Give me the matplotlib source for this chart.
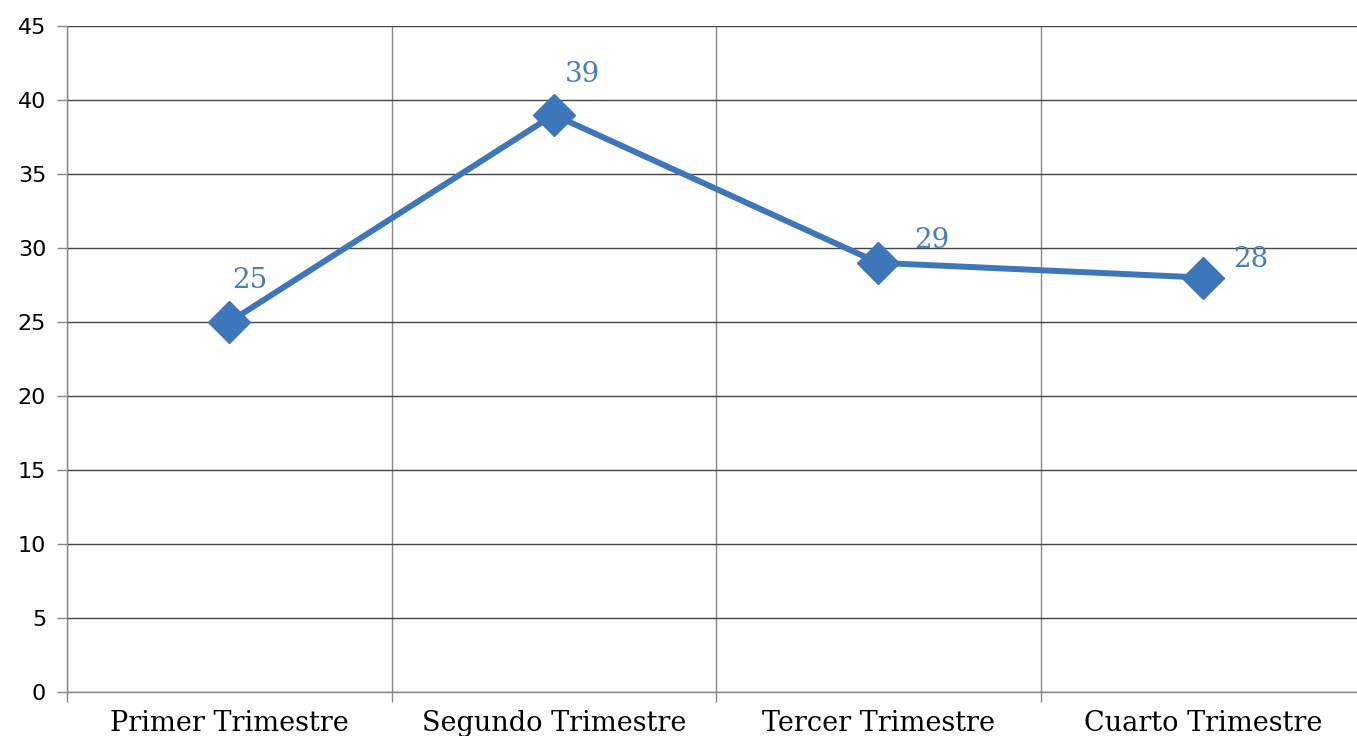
import numpy as np
import matplotlib.pyplot as plt

# data
categories = ["Primer Trimestre", "Segundo Trimestre", "Tercer Trimestre", "Cuarto Trimestre"]
values = [25, 39, 29, 28]
y_ticks = [0, 5, 10, 15, 20, 25, 30, 35, 40, 45]

# label offsets in pixels (right, up) - Excel-style placement
label_offsets = [(21, 42), (29, 40), (53, 22), (48, 18)]

line_color = "#3E77B9"
label_color = "#4A7EBB"

fig = plt.figure(figsize=(13.57, 7.36), dpi=100)
ax = fig.add_axes([67 / 1357, 1 - 692 / 736, 1298 / 1357, 666 / 736])

x = np.arange(len(categories))
ax.plot(x, values, color=line_color, lw=4.3, marker="D", ms=21,
        mfc=line_color, mec=line_color, zorder=5, clip_on=False)

for xi, v, (dx, dy) in zip(x, values, label_offsets):
    ax.annotate(str(v), (xi, v), xytext=(dx * 0.72, dy * 0.72), textcoords="offset points",
                ha="center", va="center", color=label_color, fontsize=20, family="DejaVu Serif")

ax.set_xlim(-0.5, len(categories) - 0.5)
ax.set_ylim(0, 45)
ax.set_yticks(y_ticks)
ax.set_yticklabels([str(t) for t in y_ticks], fontsize=16, family="DejaVu Sans")

ax.set_xticks(x)
ax.set_xticklabels(categories, fontsize=19.5, family="DejaVu Serif")
ax.set_xticks(np.arange(-0.5, len(categories) + 0.5, 1), minor=True)
ax.tick_params(axis="x", which="major", length=0, pad=13)
ax.tick_params(axis="x", which="minor", length=7, color="#888888", width=1)
ax.tick_params(axis="y", length=7, color="#888888", width=1, pad=8)

ax.grid(axis="y", which="major", color="#444444", lw=1)
ax.grid(axis="x", which="minor", color="#888888", lw=1)
ax.set_axisbelow(True)

for s in ["top", "right"]:
    ax.spines[s].set_visible(False)
for s in ["left", "bottom"]:
    ax.spines[s].set_color("#888888")
    ax.spines[s].set_linewidth(1)

fig.savefig("out.png", dpi=100)
